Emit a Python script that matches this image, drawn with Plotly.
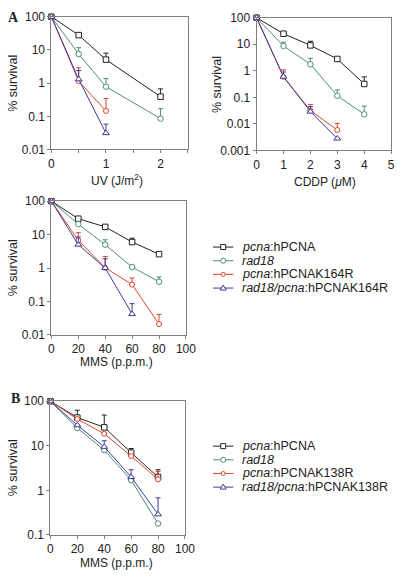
import plotly.graph_objects as go

W, H = 405, 580

# ---------------- data ----------------
series_names_a = ["<i>pcna</i>:hPCNA", "<i>rad18</i>", "<i>pcna</i>:hPCNAK164R", "<i>rad18/pcna</i>:hPCNAK164R"]
series_names_b = ["<i>pcna</i>:hPCNA", "<i>rad18</i>", "<i>pcna</i>:hPCNAK138R", "<i>rad18/pcna</i>:hPCNAK138R"]
colors = ["#222222", "#4e8c7a", "#e0442c", "#3b3b9b"]
symbols = ["square", "circle", "circle", "triangle-up"]
msizes = [5.5, 5.5, 5, 6]

# UV panel
uv_x = [[0, 0.5, 1, 2], [0, 0.5, 1, 2], [0, 0.5, 1], [0, 0.5, 1]]
uv_y = [[100, 28, 5.1, 0.39], [100, 7.5, 0.78, 0.085], [100, 1.15, 0.145], [100, 1.3, 0.031]]
uv_err = [[0, 0, 2.9, 0.28], [0, 4.2, 0.59, 0.085], [0, 1.75, 0.2], [0, 1.1, 0.027]]

# CDDP panel
cddp_x = [[0, 1, 2, 3, 4], [0, 1, 2, 3, 4], [0, 1, 2, 3], [0, 1, 2, 3]]
cddp_y = [[100, 25, 9.1, 2.8, 0.32], [100, 8.6, 1.76, 0.115, 0.023], [100, 0.59, 0.032, 0.0059], [100, 0.6, 0.029, 0.0028]]
cddp_err = [[0, 0, 3.9, 0, 0.27], [0, 3.4, 1.2, 0.075, 0.024], [0, 0.5, 0.022, 0.0046], [0, 0.3, 0.016, 0]]

# MMS panel (A)
mmsa_x = [[0, 20, 40, 60, 80], [0, 20, 40, 60, 80], [0, 20, 40, 60, 80], [0, 20, 40, 60]]
mmsa_y = [[100, 30, 17, 6.0, 2.6], [100, 20.6, 5.0, 1.07, 0.39], [100, 6.7, 1.02, 0.32, 0.021], [100, 5.0, 1.0, 0.042]]
mmsa_err = [[0, 0, 0, 1.8, 0], [0, 0, 2.0, 0, 0.15], [0, 4.7, 1.2, 0.18, 0.02], [0, 3.5, 0.9, 0.044]]

# MMS panel (B)
mmsb_x = [[0, 20, 40, 60, 80]] * 4
mmsb_y = [[100, 43, 26, 7.0, 2.0], [100, 25, 8.0, 1.7, 0.18], [100, 40, 18.6, 5.9, 1.77], [100, 29, 9.5, 2.0, 0.29]]
mmsb_err = [[0, 20, 23, 1.7, 0.9], [0, 0, 0, 0, 0], [0, 0, 0, 0, 0.9], [0, 0, 3.5, 0.9, 0.39]]

# ---------------- figure ----------------
FONT = "Liberation Sans, Arial, sans-serif"
AXC = "#808080"
TXT = "#222222"

def px_x(p):
    return p / W

def px_y(p):
    return 1 - p / H

fig = go.Figure()

panels = [
    dict(xs=uv_x, ys=uv_y, es=uv_err, ax=""),
    dict(xs=cddp_x, ys=cddp_y, es=cddp_err, ax="2"),
    dict(xs=mmsa_x, ys=mmsa_y, es=mmsa_err, ax="3"),
    dict(xs=mmsb_x, ys=mmsb_y, es=mmsb_err, ax="4"),
]

for p in panels:
    for i in range(4):
        fig.add_trace(go.Scatter(
            x=p["xs"][i], y=p["ys"][i], mode="lines+markers",
            xaxis="x" + p["ax"], yaxis="y" + p["ax"],
            line=dict(color=colors[i], width=1),
            marker=dict(symbol=symbols[i], size=msizes[i], color="white",
                        line=dict(color=colors[i], width=1)),
            error_y=dict(type="data", symmetric=False, array=p["es"][i],
                         arrayminus=[0] * len(p["es"][i]),
                         color=colors[i], thickness=1, width=2.5),
            cliponaxis=False, showlegend=False, hoverinfo="skip",
        ))

TICKFONT = dict(family=FONT, size=12, color=TXT)

def xax(domain, rng, tickvals, anchor, minor_dtick=None):
    d = dict(domain=domain, range=rng, tickvals=tickvals,
             ticktext=[("%g" % v) for v in tickvals],
             showline=True, linecolor=AXC, linewidth=1, mirror=True,
             ticks="outside", ticklen=3, tickcolor=AXC, showgrid=False,
             zeroline=False, anchor=anchor, tickfont=TICKFONT)
    if minor_dtick:
        d["minor"] = dict(ticks="outside", ticklen=3, tickcolor=AXC, dtick=minor_dtick,
                          tick0=0, showgrid=False)
    return d

def yax(domain, lo, anchor):
    vals = [10 ** k for k in range(lo, 3)]
    txt = [("%g" % v) for v in vals]
    return dict(domain=domain, type="log", range=[lo, 2], tickvals=vals, ticktext=txt,
                showline=True, linecolor=AXC, linewidth=1, mirror=True,
                ticks="outside", ticklen=3, tickcolor=AXC, showgrid=False,
                zeroline=False, anchor=anchor, tickfont=TICKFONT)

fig.update_layout(
    width=W, height=H, margin=dict(l=0, r=0, t=0, b=0),
    plot_bgcolor="white", paper_bgcolor="white",
    font=dict(family=FONT, size=12, color=TXT),
    xaxis=xax([px_x(50), px_x(191)], [0, 2.5], [0, 1, 2], "y", minor_dtick=0.5),
    yaxis=yax([px_y(146), px_y(10)], -2, "x"),
    xaxis2=xax([px_x(262), px_x(401)], [0, 5], [0, 1, 2, 3, 4, 5], "y2"),
    yaxis2=yax([px_y(147), px_y(11)], -3, "x2"),
    xaxis3=xax([px_x(50), px_x(189)], [0, 100], [0, 20, 40, 60, 80, 100], "y3"),
    yaxis3=yax([px_y(336), px_y(199)], -2, "x3"),
    xaxis4=xax([px_x(49), px_x(188)], [0, 100], [0, 20, 40, 60, 80, 100], "y4"),
    yaxis4=yax([px_y(541), px_y(404)], -1, "x4"),
    showlegend=False,
)

ann = []
def text(x, y, s, size=12, angle=0, xanchor="center", family=FONT):
    ann.append(dict(x=px_x(x), y=px_y(y), xref="paper", yref="paper", text=s,
                    showarrow=False, xanchor=xanchor, yanchor="middle",
                    textangle=angle, font=dict(family=family, size=size, color=TXT)))

# axis titles
text(118, 177, "UV (J/m<sup>2</sup>)")
text(333, 179, "CDDP (<i>\u03bc</i>M)")
text(117, 364, "MMS (p.p.m.)")
text(117, 570, "MMS (p.p.m.)")
for (x, y) in [(10, 78), (221, 79), (10, 267), (10, 472)]:
    text(x, y, "% survival", size=12.5, angle=-90)
# panel letters
text(3, 11, "<b>A</b>", size=14, xanchor="left", family="Liberation Serif, serif")
text(6, 401, "<b>B</b>", size=14, xanchor="left", family="Liberation Serif, serif")

# manual legends
shapes = []
def legend(rows_y, names):
    for i, (yy, nm) in enumerate(zip(rows_y, names)):
        fy = px_y(yy)
        shapes.append(dict(type="line", xref="paper", yref="paper",
                           x0=px_x(217), x1=px_x(238), y0=fy, y1=fy,
                           line=dict(color=colors[i], width=1)))
        cx = px_x(227.5)
        common = dict(xref="paper", yref="paper", xsizemode="pixel", ysizemode="pixel",
                      xanchor=cx, yanchor=fy, fillcolor="white",
                      line=dict(color=colors[i], width=1))
        if symbols[i] == "square":
            shapes.append(dict(type="rect", x0=-2.5, x1=2.5, y0=-2.5, y1=2.5, **common))
        elif symbols[i] == "circle":
            r = 2.5 if msizes[i] >= 5.5 else 2
            shapes.append(dict(type="circle", x0=-r, x1=r, y0=-r, y1=r, **common))
        else:
            shapes.append(dict(type="path", path="M -3,-2 L 3,-2 L 0,3 Z", **common))
        text(245, yy, nm, size=12.5, xanchor="left")

legend([246, 260, 274, 288], series_names_a)
legend([450, 464, 478, 492], series_names_b)

fig.update_layout(annotations=ann, shapes=shapes)
fig.write_html("out.html", config={"displayModeBar": False, "staticPlot": True},
               post_script="document.body.style.margin='0';document.body.style.overflow='hidden';")
